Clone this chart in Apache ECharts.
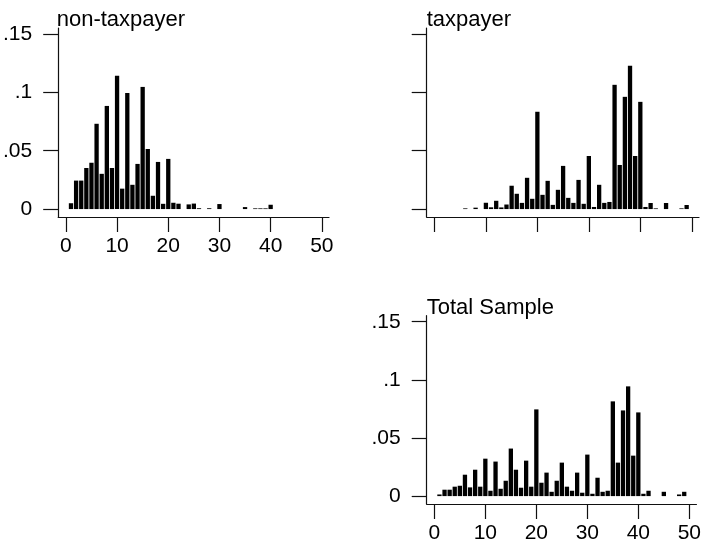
<!DOCTYPE html>
<html>
<head>
<meta charset="utf-8">
<script src="https://cdn.jsdelivr.net/npm/echarts@6/dist/echarts.min.js"></script>
<style>
  html, body { margin: 0; padding: 0; background: #fff; }
  #chart { width: 704px; height: 545px; }
</style>
</head>
<body>
<div id="chart"></div>
<script>
// discrete values 1..49, fraction of observations
const bins = [1, 2, 3, 4, 5, 6, 7, 8, 9, 10, 11, 12, 13, 14, 15, 16, 17, 18, 19, 20,
  21, 22, 23, 24, 25, 26, 27, 28, 29, 30, 31, 32, 33, 34, 35, 36, 37, 38, 39, 40,
  41, 42, 43, 44, 45, 46, 47, 48, 49];

const nonTaxpayer = [
  .005, .0244, .0244, .0352, .0397, .0731, .0302, .0884, .0352, .1142,
  .0175, .0995, .0208, .0387, .1047, .0515, .0114, .0404, .0045, .043,
  .0054, .0046, 0, .004, .0047, .0007, 0, .0007, 0, .0043,
  0, 0, 0, 0, .0017, 0, .0006, .0006, .0006, .0037,
  0, 0, 0, 0, 0, 0, 0, 0, 0];

const taxpayer = [
  0, 0, 0, 0, 0, .0006, 0, .0012, 0, .0054,
  .0015, .0071, .0014, .0039, .02, .0131, .0053, .0268, .0088, .0834,
  .0122, .0242, .0036, .0165, .037, .0096, .0053, .025, .0045, .0455,
  .0018, .0208, .0053, .0061, .1065, .0378, .0962, .1228, .0455, .0919,
  .0018, .0052, .0006, 0, .0052, 0, 0, .0006, .0035];

const totalSample = [
  .0014, .0055, .0055, .0081, .0089, .0184, .0075, .0227, .0081, .0322,
  .0046, .0297, .0063, .0132, .0409, .0227, .0072, .0305, .0081, .0746,
  .0115, .0202, .0037, .0132, .0288, .0081, .0046, .0202, .0029, .0357,
  .002, .0158, .0037, .0046, .0815, .0288, .0737, .0944, .0348, .072,
  .002, .0046, 0, 0, .0037, 0, 0, .0014, .0037];

const panelTitles = ['non-taxpayer', 'taxpayer', 'Total Sample'];
const xTicks = [0, 10, 20, 30, 40, 50];
const yTicks = [0, 0.05, 0.1, 0.15];
const yTickLabels = ['0', '.05', '.1', '.15'];

const font = '"Liberation Sans", Arial, Helvetica, sans-serif';
const ink = '#111';

// layout of the three panels (left, top, width, height) and which labels show
const panels = [
  { series: nonTaxpayer, grid: [56.7, 28, 272.3, 189], xLabels: true, yLabels: true },
  { series: taxpayer, grid: [426.7, 28, 272.3, 189], xLabels: false, yLabels: false },
  { series: totalSample, grid: [426.7, 315.7, 273, 188.3], xLabels: true, yLabels: true }
];

const chart = echarts.init(document.getElementById('chart'), null, { renderer: 'canvas' });

const option = {
  animation: false,
  backgroundColor: '#fff',
  title: [],
  grid: [],
  xAxis: [],
  yAxis: [],
  series: []
};

panels.forEach((p, i) => {
  const [left, top, width, height] = p.grid;
  option.grid.push({ left, top, width, height, containLabel: false });

  option.title.push({
    text: panelTitles[i],
    left: left,
    top: top - 19,
    padding: 0,
    textStyle: { fontFamily: font, fontSize: 22, fontWeight: 'normal', color: '#000' }
  });

  option.xAxis.push({
    gridIndex: i,
    type: 'value',
    min: -1.5,
    max: 51.4,
    splitLine: { show: false },
    axisLine: { show: true, onZero: false, lineStyle: { color: ink, width: 1.2 } },
    axisTick: { show: true, length: 15, customValues: xTicks, lineStyle: { color: ink, width: 1.2 } },
    axisLabel: {
      show: p.xLabels, customValues: xTicks, margin: 19,
      fontFamily: font, fontSize: 21, color: '#000'
    }
  });

  option.yAxis.push({
    gridIndex: i,
    type: 'value',
    min: -0.0068,
    max: 0.1552,
    splitLine: { show: false },
    axisLine: { show: true, onZero: false, lineStyle: { color: ink, width: 1.2 } },
    axisTick: { show: true, length: 15, customValues: yTicks, lineStyle: { color: ink, width: 1.2 } },
    axisLabel: {
      show: p.yLabels, customValues: yTicks, margin: 26,
      fontFamily: font, fontSize: 21, color: '#000',
      formatter: v => yTickLabels[yTicks.findIndex(t => Math.abs(t - v) < 1e-9)]
    }
  });

  option.series.push({
    type: 'bar',
    name: panelTitles[i],
    xAxisIndex: i,
    yAxisIndex: i,
    barWidth: 4.3,
    itemStyle: { color: '#000' },
    data: bins.map((b, k) => [b, p.series[k]]).filter(d => d[1] > 0)
  });
});

chart.setOption(option);
</script>
</body>
</html>
